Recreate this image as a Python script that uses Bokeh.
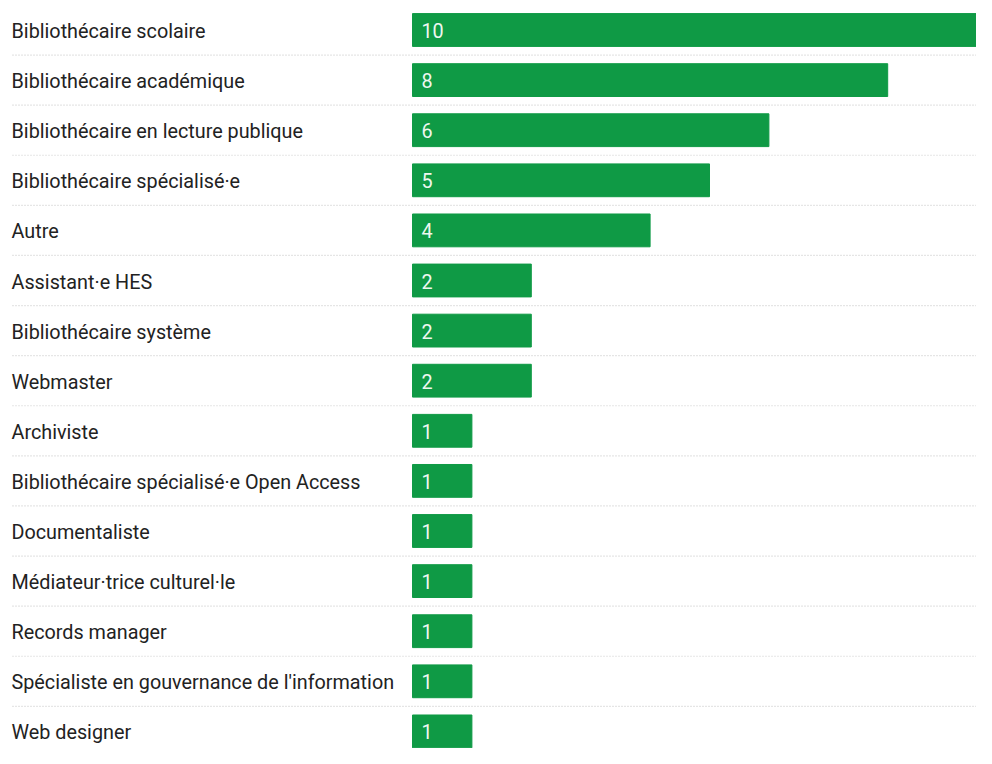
from bokeh.plotting import figure
from bokeh.models import Range1d, ColumnDataSource
from bokeh.core.properties import value
from bokeh.embed import file_html
from bokeh.resources import INLINE

categories = [
    "Bibliothécaire scolaire",
    "Bibliothécaire académique",
    "Bibliothécaire en lecture publique",
    "Bibliothécaire spécialisé·e",
    "Autre",
    "Assistant·e HES",
    "Bibliothécaire système",
    "Webmaster",
    "Archiviste",
    "Bibliothécaire spécialisé·e Open Access",
    "Documentaliste",
    "Médiateur·trice culturel·le",
    "Records manager",
    "Spécialiste en gouvernance de l'information",
    "Web designer",
]
counts = [10, 8, 6, 5, 4, 2, 2, 2, 1, 1, 1, 1, 1, 1, 1]

W, H = 976, 748
LEFT_PX = 412          # space for category labels
PX_PER_UNIT = 59.4     # horizontal scale
ROW_PX = 50.1          # row pitch
TOP_PX = 29.5          # first row centre from top

x_start = -LEFT_PX / PX_PER_UNIT
x_end = (W - LEFT_PX) / PX_PER_UNIT
y_top = -TOP_PX / ROW_PX
y_bottom = y_top + H / ROW_PX

idx = list(range(len(categories)))
src = ColumnDataSource(dict(
    y=idx,
    cat=categories,
    n=counts,
    lab=[str(c) for c in counts],
    zero=[0] * len(idx),
    lx=[x_start] * len(idx),
))

p = figure(width=W, height=H, output_backend="svg", toolbar_location=None,
           x_range=Range1d(x_start, x_end), y_range=Range1d(y_bottom, y_top),
           min_border=0, min_border_left=0, min_border_right=0,
           min_border_top=0, min_border_bottom=0)
p.axis.visible = False
p.grid.visible = False
p.outline_line_color = None
p.background_fill_color = "white"
p.border_fill_color = "white"

# dotted separators between rows
sep_y = [i + 0.5 for i in idx[:-1]]
sep_x0 = x_start + 12 / PX_PER_UNIT
p.segment(x0=[sep_x0] * len(sep_y), x1=[x_end] * len(sep_y), y0=sep_y, y1=sep_y,
          line_color="#cccccc", line_width=1.2, line_dash="1 2")

p.hbar(y="y", left="zero", right="n", height=0.655, source=src,
       fill_color="#0f9a45", line_color="#0f9a45")

p.text(x="zero", y="y", text="lab", source=src, x_offset=9, y_offset=0.5,
       text_align="left", text_baseline="middle",
       text_font=value("Roboto"), text_font_size="19.8px", text_color="#eef7f0")

p.text(x="lx", y="y", text="cat", source=src, x_offset=11, y_offset=1.5,
       text_align="left", text_baseline="middle",
       text_font=value("Roboto"), text_font_size="19.8px", text_color="#222222")

open("out.html", "w").write(file_html(p, INLINE))
